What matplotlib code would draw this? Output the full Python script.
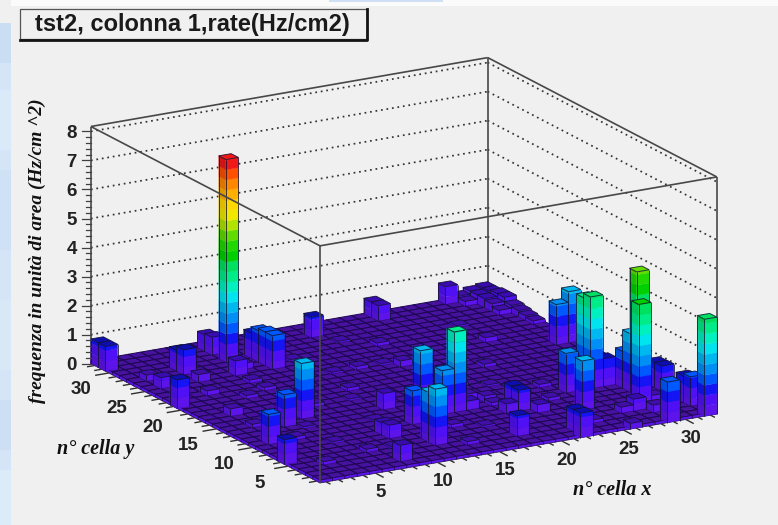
import numpy as np
import matplotlib
matplotlib.use("Agg")
import matplotlib.pyplot as plt
from matplotlib.patches import Rectangle
from matplotlib.lines import Line2D
from mpl_toolkits.mplot3d import proj3d
from mpl_toolkits.mplot3d.art3d import Poly3DCollection, Line3DCollection

W, H = 778, 525

# ---- data ----
cell_i = [1,1,5,5,9,9,8,11,11,11,11,7,17,23,23,29,9,16,17,16,12,12,13,13,10,10,8,19,5,2,1,1,2,2,3,5,
          31,32,28,28,25,26,22,22,18,21,21,20,22,30,28,30,30,29,32,32,29,32,32,28,29,
          16,27,7,4,6,3,4,6,9,10,13,20,24,15,25,27,24,26,14,13,20,27,18,
          32,32,32,32,32,32,32,32,31,31,31,31,31,30,30,
          20,19,18,8,20,9,8,14,22,12,6,17,24,29,23,18,11,3,9]
cell_j = [32,31,28,27,31,30,25,25,26,27,28,14,30,32,31,32,28,13,10,10,4,5,9,13,7,8,2,21,13,10,6,21,25,27,17,25,
          20,20,10,11,6,10,1,2,3,8,9,8,7,7,4,8,9,10,7,8,1,4,3,4,3,
          22,23,5,22,20,14,10,8,16,19,18,15,18,7,12,4,3,1,3,26,26,27,10,
          32,31,30,29,28,27,26,25,32,31,30,29,28,32,31,
          11,12,22,21,10,26,23,22,14,16,12,6,9,14,20,28,11,4,5]
cell_h = [.85,.85,.8,.95,.65,.7,.6,1.25,1.25,1.17,.95,2.0,.8,.62,.62,.7,7.08,1.9,2.86,1.6,2.03,1.8,1.25,.65,.55,.5,.65,.3,1.2,1.13,.85,.98,.47,.3,.35,.35,
          1.48,1.85,3.25,3.1,1.78,1.45,.85,.84,.8,.81,.83,.42,.37,4.35,1.38,2.1,1.35,1.05,.96,.95,1.4,1.0,1.1,.5,.35,
          .2,.25,.2,.25,.2,.2,.2,.15,.2,.2,.2,.2,.2,.2,.2,.3,.2,.2,.2,.15,.2,.15,.4,
          .45,.45,.5,.5,.35,.3,.25,.2,.4,.4,.4,.35,.25,.3,.25,
          .3,.3,.15,.2,.2,.3,.2,.15,.15,.15,.15,.15,.2,.2,.15,.15,.15,.2,.15]
extra_i = [30,32,29]
extra_j = [5,1,5]
extra_h = [.35,3.34,3.56]
n_bins = 32
floor_h = 0.1
z_top = 8.17
z_ticks = [0,1,2,3,4,5,6,7,8]
xy_ticks = [5,10,15,20,25,30]

band_colors = ['#5c14ea','#5010f5','#1414f5','#0058ff','#0090f5','#00b8f0','#00e4f0','#00f0c0',
               '#00ec88','#00e060','#00d000','#20d800','#60dc00','#b0e400','#f0e800','#ffd800',
               '#ffb000','#ff8800','#ff5000','#f01818']
band_step = 7.08 / 20

# ---- figure ----
fig = plt.figure(figsize=(W/100, H/100), dpi=100, facecolor='#f0f0f0')

def fx(px): return px / W
def fy(py): return 1 - py / H

bg = [(0,23,11,502,'#d3e5f6'),(0,23,11,40,'#c9def3'),(0,90,11,60,'#dbeaf8'),(0,170,11,80,'#cfe1f4'),
      (0,300,11,70,'#d9e8f7'),(0,400,11,50,'#cde0f3'),(0,470,11,55,'#dcebf8'),
      (11,0,767,6,'#fbfbfb'),(329,0,114,2,'#cfe0f4')]
for x0,y0,w,h,c in bg:
    fig.add_artist(Rectangle((fx(x0),fy(y0+h)),fx(w),h/H,transform=fig.transFigure,fc=c,ec='none',zorder=-5))

S = 900
ax = fig.add_axes([fx(320-S/2), fy(300+S/2), S/W, S/H], projection='3d',
                  proj_type='ortho', computed_zorder=False)
ax.view_init(elev=17.5, azim=-120)
ax.set_xlim(0.5, n_bins+0.5)
ax.set_ylim(0.5, n_bins+0.5)
ax.set_zlim(0, z_top)
ax.set_axis_off()
ax.patch.set_visible(False)
aspect = (457, 457, 248)

def to_px(x, y, z):
    xs, ys, _ = proj3d.proj_transform(x, y, z, ax.get_proj())
    X, Y = ax.transData.transform((xs, ys))
    return X, H - Y

# calibrate the 3D view so that the floor lands where it does in the picture
zoom = 1.0
for _ in range(3):
    ax.set_box_aspect(aspect, zoom=zoom)
    ax.apply_aspect()
    p0 = np.array(to_px(0.5, 0.5, 0)); p1 = np.array(to_px(n_bins+0.5, 0.5, 0))
    zoom *= np.hypot(397, 68) / np.hypot(*(p1-p0))
ax.set_box_aspect(aspect, zoom=zoom)
ax.apply_aspect()
p1 = np.array(to_px(0.5, 0.5, 0))
pos = ax.get_position(original=True)
ax.set_position([pos.x0 + (320-p1[0])/W, pos.y0 - (483-p1[1])/H, pos.width, pos.height])
ax.apply_aspect()

def shade(c, f):
    r = np.array(matplotlib.colors.to_rgb(c)) * f
    return tuple(np.clip(r, 0, 1))

L, R = 0.5, n_bins + 0.5
frame_c = '#484848'
# back walls
grid = []
for z in z_ticks:
    if z == 0: continue
    grid.append([(L,R,z),(R,R,z)])
    grid.append([(R,R,z),(R,L,z)])
ax.add_collection3d(Line3DCollection(grid, colors='#333333', linewidths=1.25, linestyles=[(0,(1,2.2))], zorder=1))
back = [[(L,R,0),(L,R,z_top)],[(R,R,0),(R,R,z_top)],[(R,L,0),(R,L,z_top)],
        [(L,R,z_top),(R,R,z_top)],[(R,R,z_top),(R,L,z_top)]]
ax.add_collection3d(Line3DCollection(back, colors=frame_c, linewidths=1.2, zorder=2))

# floor
heights = {}
for i,j,h in zip(cell_i+extra_i, cell_j+extra_j, cell_h+extra_h):
    heights[(i,j)] = h
floor_top = []; skirt_a = []; skirt_b = []
for i in range(1, n_bins+1):
    for j in range(1, n_bins+1):
        x0,x1,y0,y1 = i-.5,i+.5,j-.5,j+.5
        floor_top.append([(x0,y0,floor_h),(x1,y0,floor_h),(x1,y1,floor_h),(x0,y1,floor_h)])
    skirt_a.append([(i-.5,L,0),(i+.5,L,0),(i+.5,L,floor_h),(i-.5,L,floor_h)])
    skirt_b.append([(L,i-.5,0),(L,i+.5,0),(L,i+.5,floor_h),(L,i-.5,floor_h)])
ax.add_collection3d(Poly3DCollection(floor_top, facecolors='#46129e', edgecolors='#1c0650', linewidths=0.7, zorder=3))
ax.add_collection3d(Poly3DCollection(skirt_a+skirt_b, facecolors='#5c14ea', edgecolors='#1c0650', linewidths=0.5, zorder=3))

# raised columns, back to front
order = sorted(heights.items(), key=lambda kv: -(kv[0][0]+kv[0][1]))
for k, ((i,j),h) in enumerate(order):
    x0,x1,y0,y1 = i-.5,i+.5,j-.5,j+.5
    base = 0.0 if (i == 1 or j == 1) else floor_h
    polys=[]; cols=[]
    z = base
    while z < h - 1e-6:
        b = int(z / band_step + 1e-9)
        z2 = min((b+1)*band_step, h)
        c = band_colors[min(b,19)]
        polys.append([(x0,y0,z),(x1,y0,z),(x1,y0,z2),(x0,y0,z2)]); cols.append(shade(c,1.0))
        polys.append([(x0,y0,z),(x0,y1,z),(x0,y1,z2),(x0,y0,z2)]); cols.append(shade(c,0.86))
        z = z2
    topb = min(int(h/band_step),19)
    tf = 0.72 if topb <= 2 else 1.0
    top_c = shade(band_colors[topb], tf)
    polys.append([(x0,y0,h),(x1,y0,h),(x1,y1,h),(x0,y1,h)]); cols.append(top_c)
    zo = 4 + k*0.01
    ax.add_collection3d(Poly3DCollection(polys, facecolors=cols, edgecolors=cols, linewidths=0.2, zorder=zo))
    seg = [[(x0,y0,base),(x0,y0,h)],[(x1,y0,base),(x1,y0,h)],[(x0,y1,base),(x0,y1,h)],
           [(x0,y0,h),(x1,y0,h)],[(x1,y0,h),(x1,y1,h)],[(x1,y1,h),(x0,y1,h)],[(x0,y1,h),(x0,y0,h)]]
    ax.add_collection3d(Line3DCollection(seg, colors='#101030', linewidths=0.7, alpha=0.8, zorder=zo+0.001))

# front frame lines
front = [[(L,L,0),(L,L,z_top)],[(L,R,z_top),(L,L,z_top)],[(L,L,z_top),(R,L,z_top)]]
ax.add_collection3d(Line3DCollection(front, colors=frame_c, linewidths=1.2, zorder=20))

# ticks on floor edges
tick_x = []; tick_y = []
for t in range(1, n_bins+1):
    ln = 1.1 if t % 5 == 0 else 0.6
    tick_x.append([(t,L,0),(t,L-ln,0)])
    tick_y.append([(L,t,0),(L-ln,t,0)])
ax.add_collection3d(Line3DCollection(tick_x+tick_y, colors='#303030', linewidths=1.0, zorder=21))

# z axis ticks
fn = ['Liberation Sans']
for z in np.arange(0, 8.01, 0.2):
    X, Y = to_px(L, R, z)
    major = abs(z-round(z)) < 1e-6
    ln = 9 if major else 5
    fig.add_artist(Line2D([fx(X-ln), fx(X)], [fy(Y), fy(Y)], transform=fig.transFigure, color='#404040', lw=0.9))
for z in z_ticks:
    X, Y = to_px(L, R, z)
    fig.text(fx(X-14), fy(Y+2), str(z), ha='right', va='center', family=fn, fontweight='bold', fontsize=13.5, color='#222222')
for t in xy_ticks:
    X, Y = to_px(t, L, 0)
    fig.text(fx(X+5), fy(Y+19), str(t), ha='center', va='center', family=fn, fontweight='bold', fontsize=13.5, color='#222222')
    X, Y = to_px(L, t, 0)
    fig.text(fx(X-28), fy(Y+17), str(t), ha='center', va='center', family=fn, fontweight='bold', fontsize=13.5, color='#222222')

# axis titles
ser = ['Liberation Serif']
fig.text(fx(37), fy(251), 'frequenza in unità di area (Hz/cm ^2)', rotation=90, ha='center', va='center',
         family=ser, style='italic', fontweight='bold', fontsize=14, color='#111111')
fig.text(fx(96), fy(449), 'n° cella y', ha='center', va='center', family=ser, style='italic', fontweight='bold', fontsize=14.5, color='#111111')
fig.text(fx(612), fy(490), 'n° cella x', ha='center', va='center', family=ser, style='italic', fontweight='bold', fontsize=14.5, color='#111111')

# title box
fig.add_artist(Rectangle((fx(20),fy(39)),fx(347),30/H,transform=fig.transFigure,fc='#f0f0f0',ec='#555555',lw=0.9,zorder=5))
fig.add_artist(Line2D([fx(20),fx(367),fx(367)],[fy(40),fy(40),fy(9)],transform=fig.transFigure,color='#151515',lw=2,zorder=6))
fig.text(fx(192.5), fy(25), 'tst2, colonna 1,rate(Hz/cm2)', ha='center', va='center', family=fn, fontweight='bold', fontsize=17, color='#1a1a1a', zorder=7)

fig.savefig('out.png', dpi=100, facecolor=fig.get_facecolor())
